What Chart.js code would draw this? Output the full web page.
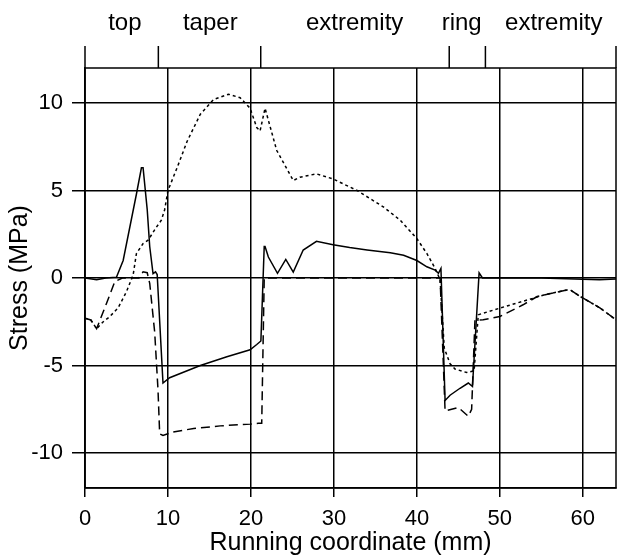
<!DOCTYPE html>
<html>
<head>
<meta charset="utf-8">
<script src="https://cdn.jsdelivr.net/npm/chart.js@4"></script>
<style>
  html, body { margin: 0; padding: 0; background: #fff; }
</style>
</head>
<body>
<canvas id="stress-chart" width="621" height="556"></canvas>
<script>
// Axis ticks
const xTicks = [0, 10, 20, 30, 40, 50, 60];
const yTicks = [-10, -5, 0, 5, 10];

// Sections along the running coordinate (mm)
const sectionEdges = [0, 8.84, 21.18, 43.9, 48.26, 64];
const sectionNames = ['top', 'taper', 'extremity', 'ring', 'extremity'];
const sectionCenters = [4.8, 15.1, 32.5, 45.4, 56.5];

// Solid curve
const solidX = [0, 1.4, 2.5, 3.8, 4.6, 6.2, 6.8, 7.0, 7.5, 7.8, 8.2, 8.5, 8.7, 9.4, 10.2, 13.9, 17.1, 19.9, 20.7, 21.2,
  21.6, 21.7, 22.1, 23.2, 24.2, 25.1, 26.3, 27.9, 29.9, 31.9, 34.0, 36.8, 38.4, 40.0, 41.2, 42.2, 42.6, 42.9,
  43.4, 44.0, 45.2, 46.2, 46.7, 47.5, 47.9, 55, 62, 64];
const solidY = [0, -0.1, 0, 0.05, 1.0, 4.8, 6.3, 6.3, 3.9, 1.8, 0.25, 0.35, 0.2, -6.0, -5.7, -5.0, -4.5, -4.1, -3.8, -3.6,
  1.8, 1.8, 1.2, 0.27, 1.06, 0.34, 1.6, 2.1, 1.9, 1.74, 1.6, 1.44, 1.3, 1.0, 0.64, 0.45, 0.27, 0.55,
  -7.0, -6.7, -6.3, -6.0, -6.2, 0.3, 0, 0, -0.1, -0.05];

// Long-dashed curve
const dashX = [0, 0.7, 1.4, 2.6, 3.6, 4.5, 6.5, 7.0, 7.5, 7.8, 8.4, 8.8, 9.0, 9.4, 10.6, 13.1, 16.3, 19.9, 20.9, 21.3,
  21.6, 30, 42.8, 43.4, 45.0, 46.2, 46.6, 47.0, 48.0, 50.0, 52.8, 54.5, 55.3, 58.1, 58.5, 59.7, 62.1, 64];
const dashY = [-2.3, -2.4, -2.9, -1.44, -0.2, 0, 0, 0.35, 0.3, -0.3, -3.1, -6.4, -8.9, -9.0, -8.8, -8.6, -8.45, -8.35, -8.3, -8.3,
  0, 0, 0, -7.6, -7.4, -7.9, -7.5, -2.4, -2.39, -2.2, -1.53, -1.06, -0.97, -0.68, -0.68, -1.06, -1.72, -2.39];

// Dotted curve
const dotX = [0, 0.7, 1.4, 2.2, 3.0, 4.0, 5.0, 5.8, 6.2, 7.0, 7.6, 8.6, 9.2, 9.6, 10.0, 11.1, 12.3, 13.9, 15.5, 17.3,
  18.7, 19.9, 20.7, 21.1, 21.7, 23.1, 25.1, 25.9, 27.9, 29.9, 32.8, 36.0, 38.0, 40.0, 41.2, 42.2, 42.8,
  43.3, 44.0, 44.6, 46.0, 46.9, 47.4, 50.0, 52.0, 54.0, 55.3, 58.1, 58.5, 59.7, 62.1, 64];
const dotY = [-2.3, -2.4, -2.9, -2.5, -2.2, -1.7, -0.78, 0.17, 1.4, 1.97, 2.16, 2.9, 3.3, 3.9, 5.0, 6.3, 7.8, 9.36, 10.2, 10.5,
  10.3, 9.7, 8.6, 8.4, 9.7, 7.3, 5.57, 5.76, 5.95, 5.66, 5.0, 4.05, 3.3, 2.25, 1.4, 0.55, -0.1,
  -4.0, -4.9, -5.2, -5.4, -5.3, -2.1, -1.72, -1.44, -1.16, -0.97, -0.68, -0.68, -1.06, -1.72, -2.39];

const FONT = '"Liberation Sans", Arial, Helvetica, sans-serif';

function toPoints(xs, ys) {
    return xs.map((x, i) => ({ x: x, y: ys[i] }));
}

function curve(xs, ys, dash) {
    return {
        data: toPoints(xs, ys),
        showLine: true,
        borderColor: '#000',
        borderWidth: 1.5,
        borderDash: dash,
        pointRadius: 0,
        tension: 0
    };
}

// Frame on all four sides and the section marks above the plot
const framePlugin = {
    id: 'frame',
    afterDraw(chart) {
        const { ctx, chartArea: a } = chart;
        const x = chart.scales.x;
        ctx.save();
        ctx.strokeStyle = '#000';
        ctx.lineWidth = 1.5;
        ctx.strokeRect(a.left, a.top, a.right - a.left, a.bottom - a.top);
        sectionEdges.forEach(v => {
            const px = x.getPixelForValue(v);
            ctx.beginPath();
            ctx.moveTo(px, a.top);
            ctx.lineTo(px, a.top - 22);
            ctx.stroke();
        });
        ctx.fillStyle = '#000';
        ctx.font = '24px ' + FONT;
        ctx.textAlign = 'center';
        ctx.textBaseline = 'alphabetic';
        sectionNames.forEach((name, i) => {
            ctx.fillText(name, x.getPixelForValue(sectionCenters[i]), 30);
        });
        ctx.restore();
    }
};

const config = {
    type: 'scatter',
    data: {
        datasets: [
            curve(solidX, solidY, []),
            curve(dashX, dashY, [9, 5]),
            curve(dotX, dotY, [3, 3])
        ]
    },
    options: {
        responsive: false,
        animation: false,
        layout: { padding: { top: 68, right: 5, left: 0, bottom: 0 } },
        plugins: { legend: { display: false }, tooltip: { enabled: false } },
        scales: {
            x: {
                type: 'linear',
                min: 0,
                max: 64,
                afterBuildTicks: s => { s.ticks = xTicks.map(v => ({ value: v })); },
                afterFit: s => { s.height = 68; },
                grid: { color: '#000', lineWidth: 1.5, tickLength: 9 },
                border: { color: '#000', width: 1.5 },
                ticks: { color: '#000', font: { family: FONT, size: 22 }, padding: 9, maxRotation: 0 },
                title: {
                    display: true,
                    text: 'Running coordinate (mm)',
                    color: '#000',
                    font: { family: FONT, size: 25, lineHeight: 1.0 },
                    padding: 0
                }
            },
            y: {
                min: -12,
                max: 12,
                afterBuildTicks: s => { s.ticks = yTicks.map(v => ({ value: v })); },
                afterFit: s => { s.width = 85; },
                grid: { color: '#000', lineWidth: 1.5, tickLength: 13 },
                border: { color: '#000', width: 1.5 },
                ticks: { color: '#000', font: { family: FONT, size: 22 }, padding: 9 },
                title: {
                    display: true,
                    text: 'Stress (MPa)',
                    color: '#000',
                    font: { family: FONT, size: 25 },
                    padding: { top: 5, bottom: 0 }
                }
            }
        }
    },
    plugins: [framePlugin]
};

new Chart(document.getElementById('stress-chart'), config);
</script>
</body>
</html>
